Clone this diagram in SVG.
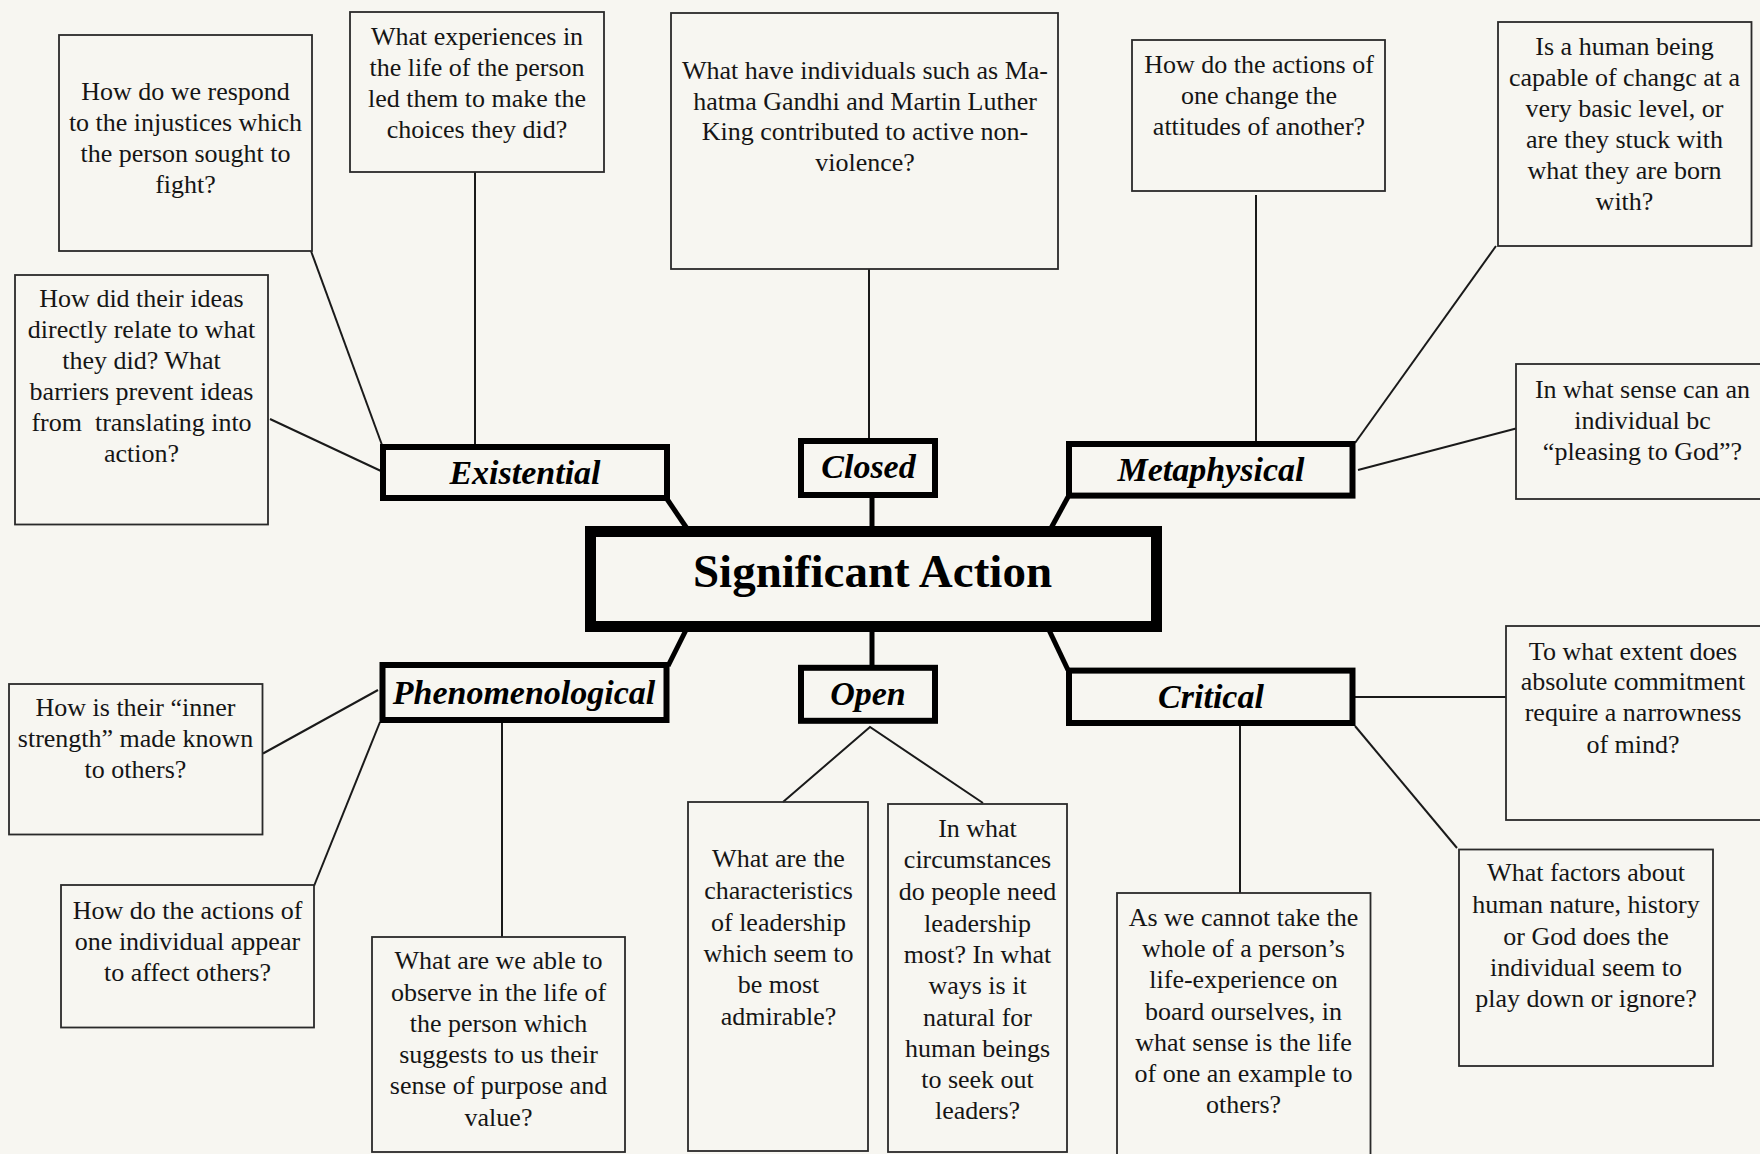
<svg xmlns="http://www.w3.org/2000/svg" width="1760" height="1154" viewBox="0 0 1760 1154">
  <style>
    .q { fill: none; stroke: #2a2a2a; stroke-width: 1.8; }
    .qt { font-family: "Liberation Serif", "Times New Roman", serif; font-size: 26px; fill: #151515; text-anchor: middle; }
    .cat { fill: none; stroke: #000; stroke-width: 6; }
    .ct { font-family: "Liberation Serif", "Times New Roman", serif; font-size: 34px; font-weight: bold; font-style: italic; fill: #000; text-anchor: middle; }
    .hub { fill: none; stroke: #000; stroke-width: 11; }
    .ht { font-family: "Liberation Serif", "Times New Roman", serif; font-size: 47px; font-weight: bold; fill: #000; text-anchor: middle; }
    .thin { stroke: #1a1a1a; stroke-width: 2; fill: none; }
    .thick { stroke: #000; stroke-width: 5; fill: none; }
  </style>
  <rect width="1760" height="1154" fill="#f7f6f1"/>

  <g id="connectors">
    <!-- hub to category boxes -->
    <line class="thick" x1="667" y1="499" x2="688" y2="530"/>
    <line class="thick" x1="872" y1="496" x2="872" y2="530"/>
    <line class="thick" x1="1068" y1="497" x2="1050" y2="530"/>
    <line class="thick" x1="668" y1="666" x2="686" y2="630"/>
    <line class="thick" x1="872" y1="630" x2="872" y2="667"/>
    <line class="thick" x1="1068" y1="670" x2="1049" y2="630"/>
    <!-- Existential questions -->
    <line class="thin" x1="311" y1="251" x2="382" y2="445"/>
    <line class="thin" x1="475" y1="172" x2="475" y2="446"/>
    <line class="thin" x1="270" y1="419" x2="381" y2="471"/>
    <!-- Closed question -->
    <line class="thin" x1="869" y1="269" x2="869" y2="440"/>
    <!-- Metaphysical questions -->
    <line class="thin" x1="1256" y1="195" x2="1256" y2="443"/>
    <line class="thin" x1="1496" y1="246" x2="1355" y2="443"/>
    <line class="thin" x1="1516" y1="428.5" x2="1358" y2="470"/>
    <!-- Phenomenological questions -->
    <line class="thin" x1="263" y1="753.5" x2="378" y2="690"/>
    <line class="thin" x1="314" y1="886" x2="380" y2="722"/>
    <line class="thin" x1="502" y1="722" x2="502" y2="937"/>
    <!-- Open questions -->
    <polyline class="thin" points="783,802 870,727 983,803"/>
    <!-- Critical questions -->
    <line class="thin" x1="1355" y1="697" x2="1506" y2="697"/>
    <line class="thin" x1="1355" y1="726" x2="1457" y2="848"/>
    <line class="thin" x1="1240" y1="726" x2="1240" y2="893"/>
  </g>

  <g id="hub">
    <rect class="hub" x="590.5" y="531.5" width="566" height="95"/>
    <text class="ht" x="872.5" y="587">Significant Action</text>
  </g>

  <g id="cat-existential">
    <rect class="cat" x="383" y="447" width="284" height="51"/>
    <text class="ct" x="525" y="484">Existential</text>
  </g>
  <g id="cat-closed">
    <rect class="cat" x="801" y="441" width="134" height="54"/>
    <text class="ct" x="868.5" y="477.5">Closed</text>
  </g>
  <g id="cat-metaphysical">
    <rect class="cat" x="1069" y="444" width="283.5" height="51.6"/>
    <text class="ct" x="1211" y="480.5">Metaphysical</text>
  </g>
  <g id="cat-phenomenological">
    <rect class="cat" x="382.5" y="665" width="284" height="55"/>
    <text class="ct" x="524" y="704">Phenomenological</text>
  </g>
  <g id="cat-open">
    <rect class="cat" x="801" y="667.8" width="134" height="53"/>
    <text class="ct" x="868" y="705">Open</text>
  </g>
  <g id="cat-critical">
    <rect class="cat" x="1069" y="670.6" width="283.5" height="52.4"/>
    <text class="ct" x="1211" y="708">Critical</text>
  </g>

  <g id="q-respond">
    <rect class="q" x="59" y="35" width="253" height="216"/>
    <text class="qt"><tspan x="185.5" y="100">How do we respond</tspan><tspan x="185.5" y="131">to the injustices which</tspan><tspan x="185.5" y="162">the person sought to</tspan><tspan x="185.5" y="193">fight?</tspan></text>
  </g>
  <g id="q-experiences">
    <rect class="q" x="350" y="12" width="254" height="160"/>
    <text class="qt"><tspan x="477" y="45">What experiences in</tspan><tspan x="477" y="76">the life of the person</tspan><tspan x="477" y="107">led them to make the</tspan><tspan x="477" y="138">choices they did?</tspan></text>
  </g>
  <g id="q-individuals">
    <rect class="q" x="671" y="13" width="387" height="256"/>
    <text class="qt"><tspan x="865" y="79">What have individuals such as Ma-</tspan><tspan x="865" y="109.5">hatma Gandhi and Martin Luther</tspan><tspan x="865" y="140">King contributed to active non-</tspan><tspan x="865" y="170.5">violence?</tspan></text>
  </g>
  <g id="q-attitudes">
    <rect class="q" x="1132" y="40" width="253" height="151"/>
    <text class="qt"><tspan x="1259" y="72.5">How do the actions of</tspan><tspan x="1259" y="103.5">one change the</tspan><tspan x="1259" y="134.5">attitudes of another?</tspan></text>
  </g>
  <g id="q-change">
    <rect class="q" x="1498" y="22" width="253.5" height="224"/>
    <text class="qt"><tspan x="1624.5" y="55">Is a human being</tspan><tspan x="1624.5" y="86">capable of changc at a</tspan><tspan x="1624.5" y="117">very basic level, or</tspan><tspan x="1624.5" y="148">are they stuck with</tspan><tspan x="1624.5" y="179">what they are born</tspan><tspan x="1624.5" y="210">with?</tspan></text>
  </g>
  <g id="q-pleasing">
    <rect class="q" x="1516" y="364" width="250" height="135"/>
    <text class="qt"><tspan x="1642.5" y="398">In what sense can an</tspan><tspan x="1642.5" y="429">individual bc</tspan><tspan x="1642.5" y="460">“pleasing to God”?</tspan></text>
  </g>
  <g id="q-ideas">
    <rect class="q" x="15" y="275" width="253" height="249.5"/>
    <text class="qt"><tspan x="141.5" y="306.5">How did their ideas</tspan><tspan x="141.5" y="337.5">directly relate to what</tspan><tspan x="141.5" y="368.5">they did? What</tspan><tspan x="141.5" y="399.5">barriers prevent ideas</tspan><tspan x="141.5" y="430.5" xml:space="preserve">from  translating into</tspan><tspan x="141.5" y="461.5">action?</tspan></text>
  </g>
  <g id="q-inner-strength">
    <rect class="q" x="9" y="684" width="253.5" height="150.5"/>
    <text class="qt"><tspan x="135.5" y="716">How is their “inner</tspan><tspan x="135.5" y="747">strength” made known</tspan><tspan x="135.5" y="778">to others?</tspan></text>
  </g>
  <g id="q-affect">
    <rect class="q" x="61" y="885" width="253" height="142.5"/>
    <text class="qt"><tspan x="187.5" y="918.5">How do the actions of</tspan><tspan x="187.5" y="949.5">one individual appear</tspan><tspan x="187.5" y="980.5">to affect others?</tspan></text>
  </g>
  <g id="q-observe">
    <rect class="q" x="372" y="937" width="253" height="215"/>
    <text class="qt"><tspan x="498.5" y="969">What are we able to</tspan><tspan x="498.5" y="1000.5">observe in the life of</tspan><tspan x="498.5" y="1031.5">the person which</tspan><tspan x="498.5" y="1063">suggests to us their</tspan><tspan x="498.5" y="1094">sense of purpose and</tspan><tspan x="498.5" y="1125.5">value?</tspan></text>
  </g>
  <g id="q-leadership">
    <rect class="q" x="688" y="802" width="180" height="349"/>
    <text class="qt"><tspan x="778.5" y="867">What are the</tspan><tspan x="778.5" y="899">characteristics</tspan><tspan x="778.5" y="930.5">of leadership</tspan><tspan x="778.5" y="962">which seem to</tspan><tspan x="778.5" y="993">be most</tspan><tspan x="778.5" y="1024.5">admirable?</tspan></text>
  </g>
  <g id="q-circumstances">
    <rect class="q" x="888" y="804" width="179" height="348"/>
    <text class="qt"><tspan x="977.5" y="836.5">In what</tspan><tspan x="977.5" y="868">circumstances</tspan><tspan x="977.5" y="900">do people need</tspan><tspan x="977.5" y="931.5">leadership</tspan><tspan x="977.5" y="963">most? In what</tspan><tspan x="977.5" y="994">ways is it</tspan><tspan x="977.5" y="1025.5">natural for</tspan><tspan x="977.5" y="1057">human beings</tspan><tspan x="977.5" y="1088">to seek out</tspan><tspan x="977.5" y="1118.5">leaders?</tspan></text>
  </g>
  <g id="q-example">
    <rect class="q" x="1117" y="893" width="253.5" height="270"/>
    <text class="qt"><tspan x="1243.5" y="925.5">As we cannot take the</tspan><tspan x="1243.5" y="957">whole of a person’s</tspan><tspan x="1243.5" y="988">life-experience on</tspan><tspan x="1243.5" y="1019.5">board ourselves, in</tspan><tspan x="1243.5" y="1050.5">what sense is the life</tspan><tspan x="1243.5" y="1082">of one an example to</tspan><tspan x="1243.5" y="1112.5">others?</tspan></text>
  </g>
  <g id="q-factors">
    <rect class="q" x="1459" y="849.5" width="254" height="216.5"/>
    <text class="qt"><tspan x="1586" y="881">What factors about</tspan><tspan x="1586" y="913">human nature, history</tspan><tspan x="1586" y="944.5">or God does the</tspan><tspan x="1586" y="976">individual seem to</tspan><tspan x="1586" y="1006.5">play down or ignore?</tspan></text>
  </g>
  <g id="q-commitment">
    <rect class="q" x="1506" y="626" width="260" height="194"/>
    <text class="qt"><tspan x="1633" y="659.5">To what extent does</tspan><tspan x="1633" y="690">absolute commitment</tspan><tspan x="1633" y="721">require a narrowness</tspan><tspan x="1633" y="752.5">of mind?</tspan></text>
  </g>
</svg>
